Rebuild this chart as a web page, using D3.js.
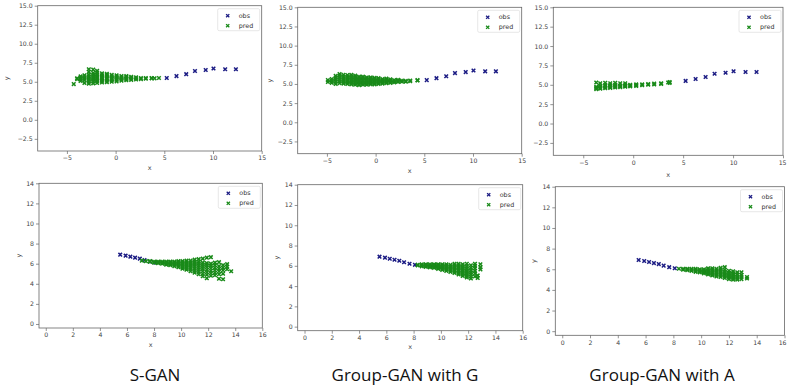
<!DOCTYPE html>
<html>
<head>
<meta charset="utf-8">
<script src="https://cdn.jsdelivr.net/npm/d3@7"></script>
<style>
  body { margin: 0; background: #fff; }
  svg { display: block; }
  .tick text { font-family: "DejaVu Sans", sans-serif; font-size: 6.2px; fill: #444; }
  .tick line { stroke: #666; stroke-width: 0.7; }
  .lab { font-family: "DejaVu Sans", sans-serif; font-size: 6.5px; fill: #444; }
  .leg { font-family: "DejaVu Sans", sans-serif; font-size: 6.4px; fill: #333; }
  .cap { font-family: "Open Sans", sans-serif; font-size: 17px; fill: #111; }
</style>
</head>
<body>
<svg id="chart" width="787" height="387"></svg>
<script>
// observed track, top row (pedestrian walking left)
const obsTopX = [5.25, 6.25, 7.25, 8.15, 9.25, 10.05, 11.25, 12.35];
const obsTopY = [5.5, 5.75, 6.0, 6.42, 6.55, 6.75, 6.65, 6.65];
// observed track, bottom row (walking right)
const obsBotX = [5.5, 5.9, 6.25, 6.6, 6.95, 7.3, 7.7, 8.1];
const obsBotY = [6.9, 6.8, 6.7, 6.6, 6.5, 6.35, 6.2, 6.1];

// predicted samples, one row per x column: [x, y, y, ...]
const predSganTop = [
  [4.45, 5.5], [4.0, 5.45], [3.7, 5.45, 5.5], [3.1, 5.4, 5.5], [2.6, 5.35, 5.5],
  [2.1, 5.3, 5.45, 5.6], [1.6, 5.25, 5.4, 5.55, 5.65], [1.1, 5.2, 5.35, 5.5, 5.65, 5.75],
  [0.6, 5.15, 5.3, 5.45, 5.6, 5.75], [0.1, 5.05, 5.25, 5.4, 5.55, 5.7, 5.85],
  [-0.4, 5.0, 5.2, 5.35, 5.5, 5.7, 5.9], [-0.9, 4.95, 5.15, 5.35, 5.5, 5.7, 5.9, 6.05],
  [-1.4, 4.9, 5.1, 5.3, 5.45, 5.65, 5.85, 6.1], [-1.9, 4.85, 5.1, 5.3, 5.5, 5.7, 5.95, 6.2, 6.45],
  [-2.3, 4.8, 5.05, 5.3, 5.45, 5.65, 5.9, 6.15, 6.6], [-2.75, 4.75, 5.0, 5.25, 5.45, 5.7, 5.95, 6.3, 6.65],
  [-3.2, 4.85, 5.2, 5.4, 5.6, 5.85], [-3.6, 5.1, 5.35, 5.5, 5.7], [-3.95, 5.35, 5.45], [-4.3, 4.7]
];
const predGgTop = [
  [4.3, 5.45, 5.5], [3.55, 5.35, 5.45], [3.1, 5.3, 5.4], [2.7, 5.3, 5.45], [2.3, 5.25, 5.4, 5.55],
  [1.9, 5.2, 5.35, 5.5], [1.5, 5.15, 5.3, 5.45, 5.6], [1.1, 5.1, 5.25, 5.4, 5.55, 5.7],
  [0.7, 5.05, 5.2, 5.35, 5.5, 5.65], [0.3, 5.0, 5.15, 5.3, 5.45, 5.6, 5.75],
  [-0.1, 4.95, 5.1, 5.25, 5.4, 5.55, 5.7, 5.8], [-0.5, 4.95, 5.1, 5.25, 5.4, 5.55, 5.7, 5.85],
  [-0.9, 4.9, 5.05, 5.2, 5.35, 5.5, 5.65, 5.85], [-1.3, 4.9, 5.05, 5.2, 5.4, 5.55, 5.75, 5.95],
  [-1.7, 4.85, 5.0, 5.2, 5.35, 5.55, 5.75, 5.95], [-2.1, 4.9, 5.1, 5.3, 5.5, 5.7, 5.9, 6.1],
  [-2.5, 4.95, 5.15, 5.35, 5.55, 5.8, 6.0, 6.2], [-2.9, 5.0, 5.2, 5.4, 5.65, 5.9, 6.15],
  [-3.3, 5.05, 5.25, 5.5, 5.7, 5.95, 6.2], [-3.7, 5.1, 5.35, 5.6, 5.85, 6.1, 6.3],
  [-4.1, 5.0, 5.3, 5.55, 5.8, 6.05], [-4.5, 5.15, 5.4, 5.65], [-4.9, 5.25, 5.5]
];
const predGaTop = [
  [3.65, 5.25, 5.35], [3.5, 5.3], [2.8, 5.1, 5.2], [2.1, 5.05, 5.15], [1.5, 5.0, 5.1],
  [0.9, 4.95, 5.05], [0.3, 4.85, 4.95, 5.05], [-0.3, 4.8, 4.9, 5.0], [-0.8, 4.75, 4.85, 4.95, 5.2],
  [-1.3, 4.7, 4.8, 4.9, 5.2], [-1.8, 4.65, 4.75, 4.85, 5.0, 5.25], [-2.3, 4.6, 4.7, 4.8, 4.95, 5.2],
  [-2.8, 4.55, 4.65, 4.8, 4.95, 5.25], [-3.3, 4.5, 4.6, 4.75, 4.9, 5.2], [-3.7, 4.45, 4.6, 4.75, 5.3]
];
const predSganBot = [
  [7.1, 6.3], [7.4, 6.25], [7.7, 6.2, 6.25], [8.0, 6.1, 6.2], [8.3, 6.05, 6.15, 6.2],
  [8.6, 6.0, 6.1, 6.2], [8.9, 5.9, 6.0, 6.1, 6.2], [9.2, 5.85, 5.95, 6.05, 6.15, 6.2],
  [9.5, 5.75, 5.9, 6.0, 6.1, 6.2], [9.8, 5.65, 5.8, 5.95, 6.05, 6.15, 6.25],
  [10.1, 5.5, 5.65, 5.8, 5.95, 6.1, 6.25], [10.4, 5.4, 5.55, 5.7, 5.85, 6.0, 6.15, 6.3],
  [10.7, 5.25, 5.45, 5.6, 5.8, 5.95, 6.1, 6.3], [11.0, 5.1, 5.3, 5.5, 5.7, 5.9, 6.05, 6.2, 6.4],
  [11.3, 4.95, 5.2, 5.4, 5.6, 5.8, 6.0, 6.2, 6.45], [11.6, 4.75, 5.0, 5.25, 5.5, 5.7, 5.9, 6.1, 6.5],
  [11.9, 4.55, 4.9, 5.15, 5.4, 5.65, 5.85, 6.05, 6.6], [12.2, 4.8, 5.05, 5.3, 5.55, 5.8, 6.0, 6.65],
  [12.5, 4.85, 5.1, 5.35, 5.6, 5.85, 6.1], [12.8, 4.5, 4.95, 5.25, 5.5, 5.75, 6.15],
  [13.1, 4.45, 5.0, 5.35, 5.6, 5.85], [13.4, 5.45, 5.7, 5.95], [13.7, 5.25]
];
const predGgBot = [
  [8.3, 6.05, 6.1], [8.6, 5.95, 6.05, 6.15], [8.9, 5.9, 6.0, 6.1, 6.15], [9.2, 5.85, 5.95, 6.05, 6.15],
  [9.5, 5.8, 5.9, 6.0, 6.1, 6.15], [9.8, 5.7, 5.8, 5.9, 6.0, 6.1, 6.15],
  [10.1, 5.6, 5.7, 5.85, 5.95, 6.05, 6.15], [10.4, 5.5, 5.65, 5.8, 5.9, 6.0, 6.15],
  [10.7, 5.4, 5.55, 5.7, 5.85, 5.95, 6.1], [11.0, 5.3, 5.45, 5.6, 5.75, 5.9, 6.05, 6.2],
  [11.3, 5.15, 5.3, 5.45, 5.6, 5.75, 5.9, 6.05, 6.2], [11.6, 5.0, 5.15, 5.3, 5.5, 5.65, 5.8, 5.95, 6.15],
  [11.9, 4.85, 5.0, 5.2, 5.4, 5.55, 5.75, 5.95, 6.2], [12.2, 4.75, 4.95, 5.15, 5.35, 5.55, 5.8, 6.05],
  [12.5, 4.95, 5.25, 5.5, 5.75, 6.0, 6.2], [12.7, 4.8, 5.05], [12.9, 5.65, 5.85, 6.15]
];
const predGaBot = [
  [8.4, 6.05], [8.7, 5.95, 6.05], [9.0, 5.9, 6.0, 6.05], [9.3, 5.85, 5.95, 6.05],
  [9.6, 5.75, 5.85, 5.95, 6.05], [9.9, 5.7, 5.8, 5.9, 6.0], [10.2, 5.6, 5.7, 5.8, 5.9, 6.0],
  [10.5, 5.5, 5.6, 5.7, 5.85, 6.0, 6.1], [10.8, 5.4, 5.5, 5.65, 5.8, 5.95, 6.1],
  [11.1, 5.3, 5.45, 5.6, 5.75, 5.9, 6.05], [11.4, 5.25, 5.4, 5.55, 5.7, 5.85, 6.0, 6.15],
  [11.7, 5.15, 5.3, 5.45, 5.6, 5.75, 5.95, 6.2], [12.0, 5.05, 5.2, 5.35, 5.5, 5.65, 5.85],
  [12.3, 5.0, 5.15, 5.3, 5.45, 5.6, 5.8], [12.6, 5.0, 5.15, 5.3, 5.5, 5.7],
  [12.9, 5.05, 5.25, 5.45, 5.7], [13.3, 5.1, 5.25]
];

const xTopTicks = [-5, 0, 5, 10, 15];
const yTopTicks = [-2.5, 0, 2.5, 5, 7.5, 10, 12.5, 15];
const xBotTicks = [0, 2, 4, 6, 8, 10, 12, 14, 16];
const yBotTicks = [0, 2, 4, 6, 8, 10, 12, 14];
const captions = ['S-GAN', 'Group-GAN with G', 'Group-GAN with A'];
const captionX = [155, 405, 662];

const obsColor = '#1c1c84';
const predColor = '#198a19';

const topRow = { xDom: [-8, 15], yDom: [-4.1, 15], xt: xTopTicks, yt: yTopTicks, fmt: d3.format('.1f'), obsX: obsTopX, obsY: obsTopY };
const botRow = { xDom: [-0.5, 16], yDom: [-0.4, 14], xt: xBotTicks, yt: yBotTicks, fmt: d3.format('d'), obsX: obsBotX, obsY: obsBotY };

// box: left, top, right, bottom in px
const panels = [
  { row: topRow, box: [37.7, 5.7, 261.7, 151], pred: predSganTop, yLab: 31, xLab: 17 },
  { row: topRow, box: [297.7, 7.3, 521.7, 153.7], pred: predGgTop, yLab: 28, xLab: 17 },
  { row: topRow, box: [553.3, 7.3, 783, 155.3], pred: predGaTop, yLab: null, xLab: 19.5 },
  { row: botRow, box: [39, 183.3, 262.3, 328], pred: predSganBot, yLab: 20, xLab: 17 },
  { row: botRow, box: [297.7, 184.7, 522.7, 330.7], pred: predGgBot, yLab: 21, xLab: 16.5 },
  { row: botRow, box: [555.3, 186.7, 784.5, 335.3], pred: predGaBot, yLab: 21, xLab: null }
];

const W = 787;
const svg = d3.select('#chart');
const minus = s => s.replace('-', '\u2212');
const cross = r => `M${-r},${-r}L${r},${r}M${-r},${r}L${r},${-r}`;
const mark = 1.8, markW = 1.5;

panels.forEach(p => {
  const [l, t, r, b] = p.box;
  const x = d3.scaleLinear().domain(p.row.xDom).range([l, r]);
  const y = d3.scaleLinear().domain(p.row.yDom).range([b, t]);
  const g = svg.append('g');

  const xa = g.append('g').attr('transform', `translate(0,${b})`)
    .call(d3.axisBottom(x).tickValues(p.row.xt).tickSize(3).tickPadding(2)
      .tickFormat(d => minus(d3.format('d')(d))));
  const ya = g.append('g').attr('transform', `translate(${l},0)`)
    .call(d3.axisLeft(y).tickValues(p.row.yt).tickSize(3).tickPadding(2)
      .tickFormat(d => minus(p.row.fmt(d))));
  xa.select('.domain').remove();
  ya.select('.domain').remove();
  // keep the last label inside the page
  xa.selectAll('.tick').filter(d => x(d) > W - 5).select('text')
    .attr('text-anchor', 'end').attr('dx', W - 1 - r);

  g.append('rect').attr('x', l).attr('y', t).attr('width', r - l).attr('height', b - t)
    .attr('fill', 'none').attr('stroke', '#666').attr('stroke-width', 0.8);

  const pts = p.pred.flatMap(c => c.slice(1).map(v => [c[0], v]));

  g.append('g').selectAll('path').data(p.row.obsX).join('path')
    .attr('d', cross(mark))
    .attr('transform', (d, i) => `translate(${x(d)},${y(p.row.obsY[i])})`)
    .attr('stroke', obsColor).attr('stroke-width', markW).attr('fill', 'none');
  g.append('g').selectAll('path').data(pts).join('path')
    .attr('d', cross(mark))
    .attr('transform', d => `translate(${x(d[0])},${y(d[1])})`)
    .attr('stroke', predColor).attr('stroke-width', markW).attr('fill', 'none');

  if (p.xLab !== null)
    g.append('text').attr('class', 'lab').attr('x', (l + r) / 2).attr('y', b + p.xLab + 2)
      .attr('text-anchor', 'middle').text('x');
  if (p.yLab !== null)
    g.append('text').attr('class', 'lab').attr('text-anchor', 'middle')
      .attr('transform', `translate(${l - p.yLab + 2},${(t + b) / 2}) rotate(-90)`).text('y');

  // legend
  const lx = r - 44, ly = t + 3;
  const lg = g.append('g').attr('transform', `translate(${lx},${ly})`);
  lg.append('rect').attr('width', 42).attr('height', 22).attr('rx', 1.5)
    .attr('fill', '#fff').attr('stroke', '#ddd').attr('stroke-width', 0.7);
  [['obs', obsColor], ['pred', predColor]].forEach(([name, c], i) => {
    lg.append('path').attr('d', cross(1.6)).attr('transform', `translate(10,${7 + i * 10})`)
      .attr('stroke', c).attr('stroke-width', 1.3).attr('fill', 'none');
    lg.append('text').attr('class', 'leg').attr('x', 21).attr('y', 9.2 + i * 10).text(name);
  });
});

captions.forEach((c, i) => {
  svg.append('text').attr('class', 'cap').attr('x', captionX[i]).attr('y', 381)
    .attr('text-anchor', 'middle').text(c);
});
</script>
</body>
</html>
